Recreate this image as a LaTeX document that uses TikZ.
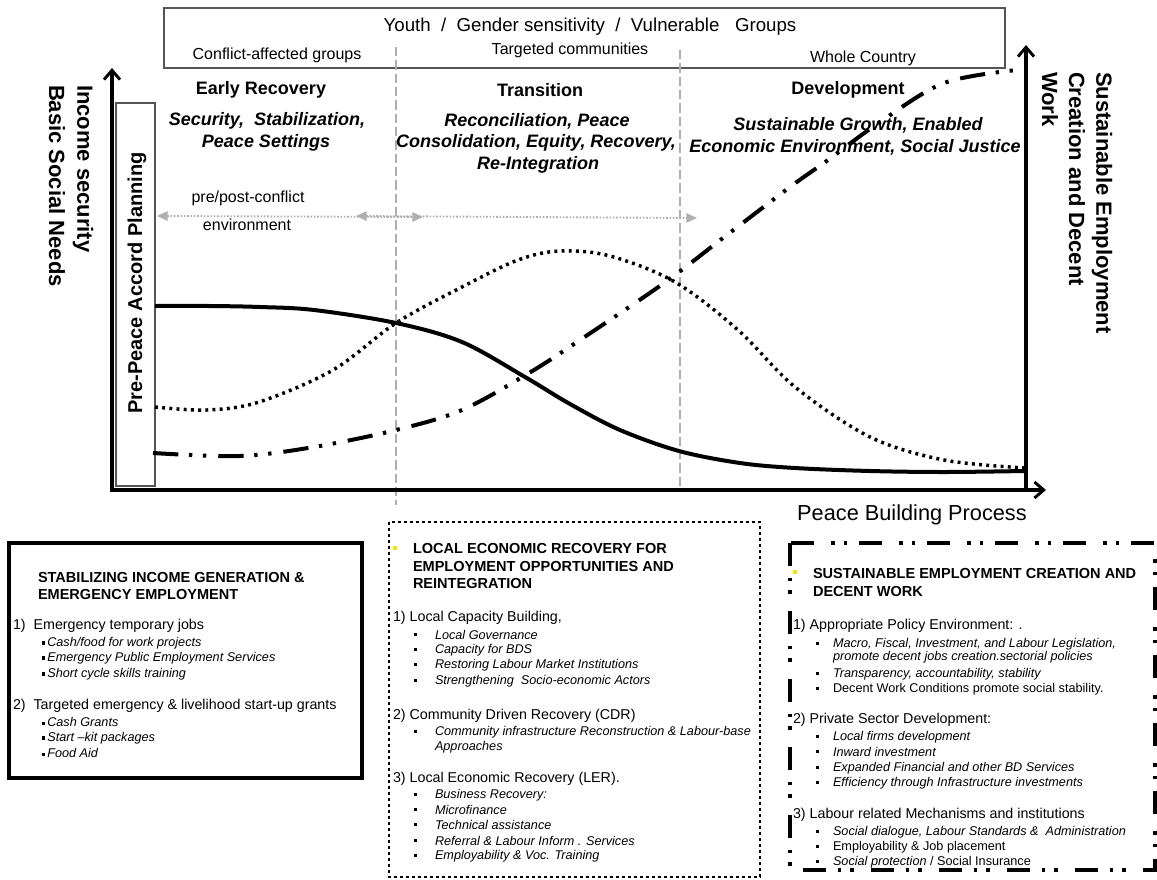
\documentclass[tikz,border=0pt]{standalone}
\usepackage{fontspec}
\setmainfont{Liberation Sans}
\usetikzlibrary{arrows.meta}
\definecolor{lgray}{RGB}{175,175,175}
\definecolor{dgray}{RGB}{85,85,85}
\definecolor{ybul}{RGB}{255,225,0}
\newcommand{\sqb}{\raisebox{0.25ex}{\rule{2.4pt}{2.4pt}}}
\begin{document}
\begin{tikzpicture}[x=0.75pt,y=-0.75pt,
  tx/.style={inner sep=0pt, outer sep=0pt},
  lab/.style={tx, font=\fontsize{12}{14}\selectfont},
  phase/.style={tx, font=\fontsize{13.5}{15}\selectfont\bfseries},
  goal/.style={tx, font=\fontsize{13.5}{15}\selectfont\bfseries\itshape},
  axlab/.style={tx, font=\fontsize{16.5}{18}\selectfont\bfseries, rotate=-90, anchor=west},
  hd/.style={tx, anchor=west, font=\fontsize{10.9}{12}\selectfont\bfseries},
  num/.style={tx, anchor=west, font=\fontsize{10.7}{12}\selectfont},
  itm/.style={tx, anchor=west, font=\fontsize{9.5}{11}\selectfont\itshape},
  itr/.style={tx, anchor=west, font=\fontsize{9.5}{11}\selectfont},
  bul/.style={tx, anchor=west, font=\fontsize{9.5}{11}\selectfont},
  axis/.style={line width=3pt, line join=miter},
  tip/.style={Straight Barb[length=7pt,width=12pt,line width=2.2pt]},
  gridl/.style={lgray, line width=0.8pt, dash pattern=on 7pt off 3pt},
  garrow/.style={lgray, line width=1.4pt, dash pattern=on 1.2pt off 1.3pt,
     {Triangle[length=8pt,width=7pt]}-{Triangle[length=8pt,width=7pt]}},
  solidc/.style={line width=3pt},
  dotc/.style={line width=2.6pt, dash pattern=on 2.2pt off 3.2pt},
  ddc/.style={line width=3pt, dash pattern=on 19pt off 8pt on 2.5pt off 8pt on 2.5pt off 9pt},
  ddbox/.style={line width=3pt, dash pattern=on 17pt off 9pt on 2.5pt off 7pt on 2.5pt off 13pt},
  dotbox/.style={line width=2.2pt, dash pattern=on 2.2pt off 2.3pt},
]
\useasboundingbox (0,0) rectangle (1157,879);
\fill[white] (0,0) rectangle (1157,879);

% ---------- top banner ----------
\draw[dgray, line width=1pt] (164,8) rectangle (1005,68);
\node[tx, font=\fontsize{14}{16}\selectfont] (youth) at (590,27) {Youth~~/~~Gender sensitivity~~/~~Vulnerable~~~Groups};
\node[lab] (cag) at (277,55) {Conflict-affected groups};
\node[lab] (tc) at (570,50) {Targeted communities};
\node[lab] (wc) at (863,58) {Whole Country};

% ---------- phase separators ----------
\coordinate (s1a) at (396,47); \coordinate (s1b) at (396,505);
\coordinate (s2a) at (680,50); \coordinate (s2b) at (680,490);
\draw[gridl] (s1a) -- (s1b);
\draw[gridl] (s2a) -- (s2b);

% ---------- phase titles ----------
\node[phase] (er) at (261,90) {Early Recovery};
\node[phase] (tr) at (540,90) {Transition};
\node[phase] (dv) at (848,90) {Development};
\node[goal] (er1) at (267,121) {Security,~ Stabilization,};
\node[goal] (er2) at (266,143) {Peace Settings};
\node[goal] (tr1) at (537,121) {Reconciliation, Peace};
\node[goal] (tr2) at (536,143) {Consolidation, Equity, Recovery,};
\node[goal] (tr3) at (538,165) {Re-Integration};
\node[goal] (dv1) at (858,125) {Sustainable Growth, Enabled};
\node[goal] (dv2) at (855,147) {Economic Environment, Social Justice};

% ---------- environment arrows ----------
\node[lab] (pp) at (248,198) {pre/post-conflict};
\node[lab] (env) at (247,225) {environment};
\coordinate (ga1) at (157,216); \coordinate (ga2) at (423,217);
\coordinate (gb1) at (356,216); \coordinate (gb2) at (697,218);
\draw[garrow] (ga1) -- (ga2);
\draw[garrow] (gb1) -- (gb2);

% ---------- pre-peace box ----------
\draw[dgray, line width=1pt] (116,103) rectangle (155,486);
\node[tx, rotate=90, font=\fontsize{15}{17}\selectfont\bfseries] (ppa) at (137,283) {Pre-Peace Accord Planning};

% ---------- curves ----------
\draw[solidc] plot[smooth, tension=0.55] coordinates {(155,306) (210,306) (260,307) (314,310) (396,323) (462,342) (525,377) (570,404) (620,430) (679,451) (740,463) (795,468) (870,471) (944,472) (1025,471)};
\draw[dotc] plot[smooth, tension=0.55] coordinates {(155,407) (207,410) (259,402) (333,370) (396,323) (462,287) (518,260) (560,251) (610,256) (675,282) (738,330) (795,387) (870,437) (944,460) (1025,468)};
\draw[ddc] plot[smooth, tension=0.55] coordinates {(153,453) (240,456) (314,447) (396,430) (462,410) (529,373) (580,340) (664,283) (723,238) (790,187) (828,160) (880,122) (944,83) (1017,70)};

% ---------- axes ----------
\coordinate (O) at (112,490);
\coordinate (Ytip) at (112,68);
\coordinate (Xtip) at (1046,490);
\coordinate (R0) at (1026,490);
\coordinate (Rtip) at (1026,45);
\draw[axis, {Straight Barb[length=7pt,width=12pt,line width=2.2pt]}-{Straight Barb[length=7pt,width=12pt,line width=2.2pt]}] (Ytip) -- (O) -- (Xtip);
\draw[axis, -{Straight Barb[length=7pt,width=12pt,line width=2.2pt]}] (R0) -- (Rtip);

\node[axlab] (ax1) at (83,85) {Income security};
\node[axlab] (ax2) at (57,85) {Basic Social Needs};
\node[axlab] (ax3) at (1102,72) {Sustainable Employment};
\node[axlab] (ax4) at (1077,72) {Creation and Decent};
\node[axlab] (ax5) at (1050,72) {Work};
\node[tx, font=\fontsize{16.3}{18}\selectfont] (pbp) at (912,515) {Peace Building Process};

% ---------- left box ----------
\draw[line width=3pt] (9,543) rectangle (362,778);
\node[hd] (a0) at (38,577) {STABILIZING INCOME GENERATION \&};
\node[hd] (a1) at (38,594) {EMERGENCY EMPLOYMENT};
\node[num] (a2) at (13,626) {1)~~Emergency temporary jobs};
\node[itm] (a3) at (42,643) {\sqb\,Cash/food for work projects};
\node[itm] (a4) at (42,658) {\sqb\,Emergency Public Employment Services};
\node[itm] (a5) at (42,674) {\sqb\,Short cycle skills training};
\node[num] (a6) at (13,706) {2)~~Targeted emergency \& livelihood start-up grants};
\node[itm] (a7) at (42,722) {\sqb\,Cash Grants};
\node[itm] (a8) at (42,738) {\sqb\,Start --kit packages};
\node[itm] (a9) at (42,753) {\sqb\,Food Aid};

% ---------- middle box ----------
\draw[dotbox] (389,522) rectangle (760,877);
\node[tx, fill=ybul, minimum size=2.5pt] (mb) at (395,548) {};
\node[hd] (b0) at (413,548) {LOCAL ECONOMIC RECOVERY FOR};
\node[hd] (b1) at (413,566) {EMPLOYMENT OPPORTUNITIES AND};
\node[hd] (b2) at (413,583) {REINTEGRATION};
\node[num] (b3) at (393,618) {1) Local Capacity Building,};
\node[bul] (b4b) at (414,635) {\sqb}; \node[itm] (b4) at (435,635) {Local Governance};
\node[bul] (b5b) at (414,650) {\sqb}; \node[itm] (b5) at (435,650) {Capacity for BDS};
\node[bul] (b6b) at (414,665) {\sqb}; \node[itm] (b6) at (435,665) {Restoring Labour Market Institutions};
\node[bul] (b7b) at (414,681) {\sqb}; \node[itm] (b7) at (435,681) {Strengthening~ Socio-economic Actors};
\node[num] (b8) at (393,716) {2) Community Driven Recovery (CDR)};
\node[bul] (b9b) at (414,732) {\sqb}; \node[itm] (b9) at (435,732) {Community infrastructure Reconstruction \& Labour-base};
\node[itm] (b10) at (435,747) {Approaches};
\node[num] (b11) at (393,779) {3) Local Economic Recovery (LER).};
\node[bul] (b12b) at (414,795) {\sqb}; \node[itm] (b12) at (435,795) {Business Recovery:};
\node[bul] (b13b) at (414,810) {\sqb}; \node[itm] (b13) at (435,810) {Microfinance};
\node[bul] (b14b) at (414,825) {\sqb}; \node[itm] (b14) at (435,825) {Technical assistance};
\node[bul] (b15b) at (414,841) {\sqb}; \node[itm] (b15) at (435,841) {Referral \& Labour Inform . Services};
\node[bul] (b16b) at (414,856) {\sqb}; \node[itm] (b16) at (435,856) {Employability \& Voc. Training};

% ---------- right box ----------
\draw[ddbox] (790,543) rectangle (1155,870);
\node[tx, fill=ybul, minimum size=2.5pt] (rb) at (795,572) {};
\node[hd] (c0) at (813,573) {SUSTAINABLE EMPLOYMENT CREATION AND};
\node[hd] (c1) at (813,591) {DECENT WORK};
\node[num] (c2) at (793,626) {1) Appropriate Policy Environment: .};
\node[bul] (c3b) at (816,644) {\sqb}; \node[itm] (c3) at (833,644) {Macro, Fiscal, Investment, and Labour Legislation,};
\node[itm] (c4) at (833,657) {promote decent jobs creation.sectorial policies};
\node[bul] (c5b) at (816,674) {\sqb}; \node[itm] (c5) at (833,674) {Transparency, accountability, stability};
\node[bul] (c6b) at (816,689) {\sqb}; \node[itr] (c6) at (833,689) {Decent Work Conditions promote social stability.};
\node[num] (c7) at (793,720) {2) Private Sector Development:};
\node[bul] (c8b) at (816,737) {\sqb}; \node[itm] (c8) at (833,737) {Local firms development};
\node[bul] (c9b) at (816,752) {\sqb}; \node[itm] (c9) at (833,752) {Inward investment};
\node[bul] (c10b) at (816,768) {\sqb}; \node[itm] (c10) at (833,768) {Expanded Financial and other BD Services};
\node[bul] (c11b) at (816,783) {\sqb}; \node[itm] (c11) at (833,783) {Efficiency through Infrastructure investments};
\node[num] (c12) at (793,815) {3) Labour related Mechanisms and institutions};
\node[bul] (c13b) at (816,832) {\sqb}; \node[itm] (c13) at (833,832) {Social dialogue, Labour Standards \&~ Administration};
\node[bul] (c14b) at (816,847) {\sqb}; \node[itr] (c14) at (833,847) {Employability \& Job placement};
\node[bul] (c15b) at (816,862) {\sqb}; \node[itr] (c15) at (833,862) {\textit{Social protection} / Social Insurance};
\end{tikzpicture}
\end{document}
